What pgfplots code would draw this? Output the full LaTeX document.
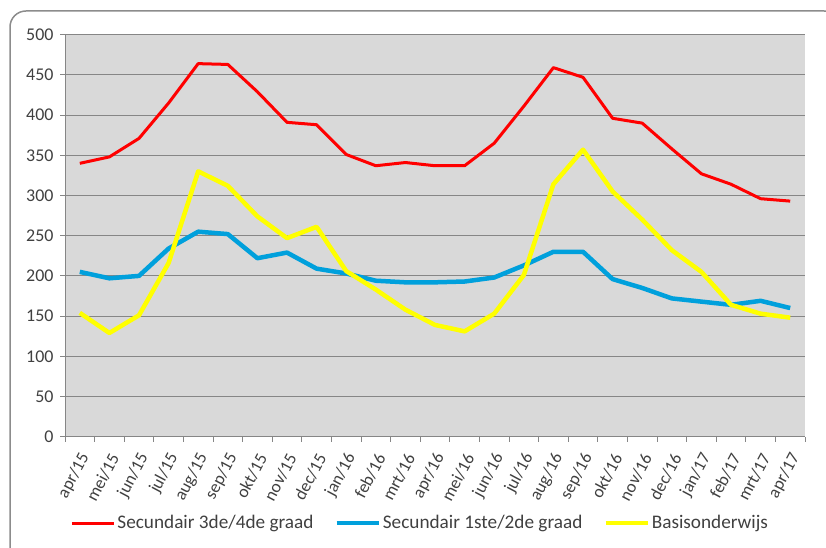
\documentclass[border=0pt]{standalone}
\usepackage{fontspec}
\setmainfont{Carlito}
\usepackage{pgfplots}
\pgfplotsset{compat=1.18}
\definecolor{plotbg}{RGB}{217,217,217}
\definecolor{gridc}{RGB}{134,134,134}
\definecolor{txt}{RGB}{64,64,64}
\definecolor{sblue}{RGB}{0,160,220}
\definecolor{sred}{RGB}{255,0,0}
\definecolor{syellow}{RGB}{255,255,0}
\definecolor{framec}{RGB}{140,140,140}
\begin{document}
\begin{tikzpicture}[x=1bp,y=1bp]
\path[use as bounding box] (0,0) rectangle (826,548);
\draw[framec, line width=1.5bp, rounded corners=16bp] (10,-20) rectangle (840,537);
\begin{axis}[
  at={(65bp,111.3bp)}, anchor=south west,
  scale only axis, width=740bp, height=402bp,
  xmin=-0.5, xmax=24.5, ymin=0, ymax=500,
  axis background/.style={fill=plotbg},
  axis x line*=bottom, axis y line*=left,
  axis line style={-, draw=gridc, line width=1bp},
  ytick={0,50,...,500},
  ymajorgrids, grid style={draw=gridc, line width=1bp},
  tick align=outside, major tick length=5bp,
  ytick style={draw=gridc, line width=1bp},
  yticklabel style={xshift=-3bp, font=\fontsize{18}{20}\selectfont, text=txt},
  /pgf/number format/assume math mode=true,
  xtick={0,...,24},
  xtick style={draw=none},
  xticklabels={apr/15,mei/15,jun/15,jul/15,aug/15,sep/15,okt/15,nov/15,dec/15,jan/16,feb/16,mrt/16,apr/16,mei/16,jun/16,jul/16,aug/16,sep/16,okt/16,nov/16,dec/16,jan/17,feb/17,mrt/17,apr/17},
  xticklabel style={xshift=7bp, yshift=-10bp, rotate=62, anchor=east, font=\fontsize{17.5}{20}\selectfont, text=txt},
  extra x ticks={-0.5,0.5,...,24.5},
  extra x tick labels={},
  extra x tick style={xtick style={draw=gridc, line width=1bp}, major tick length=5bp, tick align=outside},
  legend style={at={(0.48,-0.2147)}, anchor=center, draw=none, fill=none,
    font=\fontsize{19.3}{22}\selectfont, text=txt,
    /tikz/every even column/.append style={column sep=19bp}},
  legend columns=3,
  legend image code/.code={\draw[#1] (0bp,0bp) -- (42bp,0bp);},
]
\addplot[sred, line width=3bp, line join=round] coordinates {
(0,340)(1,348)(2,371)(3,415)(4,464)(5,463)(6,429)(7,391)(8,388)(9,351)(10,337)(11,341)(12,337)(13,337)(14,365)(15,411)(16,459)(17,447)(18,396)(19,390)(20,358)(21,327)(22,314)(23,296)(24,293)};
\addlegendentry{Secundair 3de/4de graad}
\addplot[sblue, line width=4.5bp, line join=round] coordinates {
(0,205)(1,197)(2,200)(3,234)(4,255)(5,252)(6,222)(7,229)(8,209)(9,203)(10,194)(11,192)(12,192)(13,193)(14,198)(15,213)(16,230)(17,230)(18,196)(19,185)(20,172)(21,168)(22,164)(23,169)(24,160)};
\addlegendentry{Secundair 1ste/2de graad}
\addplot[syellow, line width=4.5bp, line join=round] coordinates {
(0,154)(1,129)(2,151)(3,216)(4,330)(5,312)(6,274)(7,247)(8,261)(9,206)(10,183)(11,158)(12,139)(13,131)(14,153)(15,201)(16,314)(17,357)(18,305)(19,270)(20,232)(21,205)(22,164)(23,153)(24,148)};
\addlegendentry{Basisonderwijs}
\end{axis}
\end{tikzpicture}
\end{document}
